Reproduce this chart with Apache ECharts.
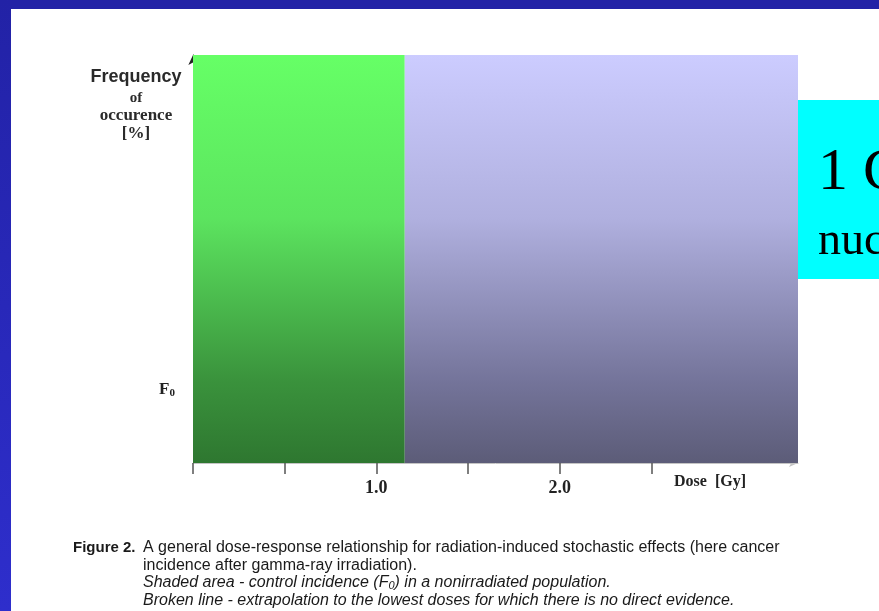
<!DOCTYPE html>
<html>
<head>
<meta charset="utf-8">
<script src="https://cdn.jsdelivr.net/npm/echarts@6/dist/echarts.min.js"></script>
<style>
html,body{margin:0;padding:0;background:#fff;}
#chart{width:879px;height:611px;}
</style>
</head>
<body>
<div id="chart"></div>
<script>
// ---- data ----
const xMin = 0;
const xMax = 3.3;
const yMin = 0;
const yMax = 100;
const zoneNames = ['Control incidence', 'Irradiated'];
const zoneStart = [0, 1.155];
const zoneEnd = [1.155, 3.3];
const f0Value = 18;
const xTickValues = [0, 0.5, 1, 1.5, 2, 2.5];
const xLabelValues = [1, 2];
const yLabelValues = [f0Value];
const yAxisTitle = ['Frequency', 'of', 'occurence', '[%]'];
const xAxisTitle = 'Dose  [Gy]';

const SERIF = "'Liberation Serif','DejaVu Serif',serif";
const SANS = "'Liberation Sans',Arial,sans-serif";

const zoneGradients = [
  [[0, '#66ff66'], [0.4, '#5ce45f'], [0.8, '#3a923c'], [1, '#2e7730']],
  [[0, '#ccccff'], [0.4, '#b0b0df'], [0.8, '#74749a'], [1, '#5c5c78']]
];

const chart = echarts.init(document.getElementById('chart'));

const zoneData = zoneNames.map((n, i) => ({ name: n, value: [zoneStart[i], zoneEnd[i], i] }));

const option = {
  backgroundColor: '#ffffff',
  animation: false,
  grid: { left: 193, right: 81, top: 55, bottom: 148 },
  xAxis: {
    type: 'value',
    min: xMin,
    max: xMax,
    splitLine: { show: false },
    axisLine: { show: true, lineStyle: { color: '#c4c4c4', width: 1 }, symbol: ['none', 'arrow'], symbolSize: [6, 9] },
    axisTick: { show: true, customValues: xTickValues, length: 11, lineStyle: { color: '#555', width: 1.5 } },
    axisLabel: {
      customValues: xLabelValues,
      formatter: v => v.toFixed(1),
      fontFamily: SERIF, fontWeight: 'bold', fontSize: 18, color: '#222', margin: 16
    }
  },
  yAxis: {
    type: 'value',
    min: yMin,
    max: yMax,
    splitLine: { show: false },
    axisLine: { show: true, lineStyle: { color: '#222', width: 1 }, symbol: ['none', 'arrow'], symbolSize: [7, 10] },
    axisTick: { show: false },
    axisLabel: {
      customValues: yLabelValues,
      margin: 18,
      formatter: () => '{f|F}{s|0}',
      rich: {
        f: { fontFamily: SERIF, fontWeight: 'bold', fontSize: 17, color: '#222' },
        s: { fontFamily: SERIF, fontWeight: 'bold', fontSize: 11, color: '#222', verticalAlign: 'bottom', padding: [8, 0, 0, 0] }
      }
    }
  },
  series: [{
    type: 'custom',
    clip: false,
    z: 3,
    data: zoneData,
    renderItem: function (params, api) {
      const i = api.value(2);
      const p0 = api.coord([api.value(0), yMax]);
      const p1 = api.coord([api.value(1), yMin]);
      return {
        type: 'rect',
        shape: { x: p0[0], y: p0[1], width: p1[0] - p0[0], height: p1[1] - p0[1] },
        style: {
          fill: new echarts.graphic.LinearGradient(0, 0, 0, 1,
            zoneGradients[i].map(s => ({ offset: s[0], color: s[1] })))
        }
      };
    }
  }],
  graphic: [
    // slide frame
    { type: 'rect', left: 0, top: 0, shape: { width: 879, height: 9 }, style: { fill: '#2222a6' }, z: 10 },
    { type: 'rect', left: 0, top: 0, shape: { width: 11, height: 611 },
      style: { fill: new echarts.graphic.LinearGradient(0, 0, 0, 1, [{ offset: 0, color: '#2222a6' }, { offset: 1, color: '#2e2ecc' }]) }, z: 10 },
    // y axis title
    { type: 'text', x: 136, y: 77, style: { text: yAxisTitle[0], font: 'bold 18px ' + SANS, fill: '#2a2a2a', align: 'center', verticalAlign: 'middle' } },
    { type: 'text', x: 136, y: 98, style: { text: yAxisTitle[1], font: 'bold 15px ' + SERIF, fill: '#2a2a2a', align: 'center', verticalAlign: 'middle' } },
    { type: 'text', x: 136, y: 116, style: { text: yAxisTitle[2], font: 'bold 17px ' + SERIF, fill: '#2a2a2a', align: 'center', verticalAlign: 'middle' } },
    { type: 'text', x: 136, y: 134, style: { text: yAxisTitle[3], font: 'bold 17px ' + SERIF, fill: '#2a2a2a', align: 'center', verticalAlign: 'middle' } },
    // x axis title
    { type: 'text', x: 674, y: 482, style: { text: xAxisTitle, font: 'bold 16px ' + SERIF, fill: '#222', align: 'left', verticalAlign: 'middle' } },
    // caption
    { type: 'text', x: 73, y: 548, style: { text: 'Figure 2.', font: 'bold 15px ' + SANS, fill: '#1a1a1a', align: 'left', verticalAlign: 'middle' } },
    { type: 'text', x: 143, y: 548, style: { text: 'A general dose-response relationship for radiation-induced stochastic effects (here cancer', font: '16px ' + SANS, fill: '#1a1a1a', align: 'left', verticalAlign: 'middle' } },
    { type: 'text', x: 143, y: 566, style: { text: 'incidence after gamma-ray irradiation).', font: '16px ' + SANS, fill: '#1a1a1a', align: 'left', verticalAlign: 'middle' } },
    { type: 'text', x: 143, y: 583, style: {
        text: '{t|Shaded area - control incidence (F}{s|0}{t|) in a nonirradiated population.}',
        align: 'left', verticalAlign: 'middle',
        rich: {
          t: { font: 'italic 16px ' + SANS, fill: '#1a1a1a' },
          s: { font: 'italic 11px ' + SANS, fill: '#1a1a1a', verticalAlign: 'bottom', padding: [6, 0, 0, 0] }
        } } },
    { type: 'text', x: 143, y: 601, style: { text: 'Broken line - extrapolation to the lowest doses for which there is no direct evidence.', font: 'italic 16px ' + SANS, fill: '#1a1a1a', align: 'left', verticalAlign: 'middle' } },
    // overlapping slide box
    { type: 'rect', left: 798, top: 100, shape: { width: 81, height: 179 }, style: { fill: '#00ffff' }, z: 20 },
    { type: 'text', x: 818, y: 173, style: { text: '1 Gy', font: '60px ' + SERIF, fill: '#000', align: 'left', verticalAlign: 'middle' }, z: 21 },
    { type: 'text', x: 818, y: 242, style: { text: 'nucleus', font: '46px ' + SERIF, fill: '#000', align: 'left', verticalAlign: 'middle' }, z: 21 }
  ]
};

chart.setOption(option);
</script>
</body>
</html>
